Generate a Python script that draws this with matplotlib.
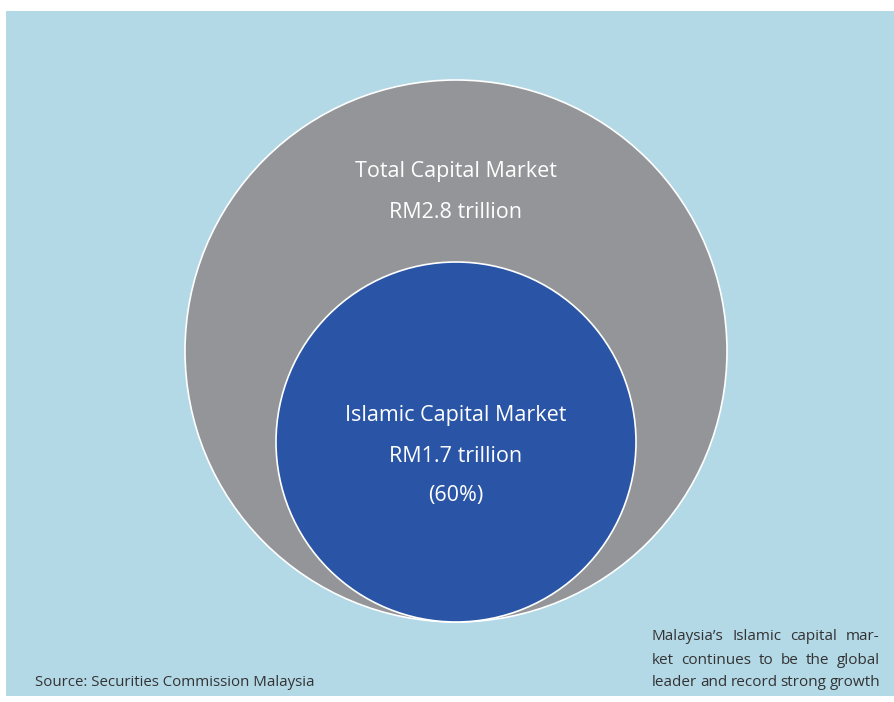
import matplotlib.pyplot as plt
from matplotlib.patches import Circle, Rectangle

# chart content
markets = ["Total Capital Market", "Islamic Capital Market"]
sizes_trillion = [2.8, 1.7]
islamic_share = 60
source_note = "Source: Securities Commission Malaysia"
caption_lines = [
    "Malaysia\u2019s Islamic capital mar-",
    "ket continues to be the global",
    "leader and record strong growth",
]

plt.rcParams["font.family"] = ["Open Sans", "DejaVu Sans"]

fig = plt.figure(figsize=(8.95, 7.02), dpi=100)
ax = fig.add_axes([0, 0, 1, 1])
ax.set_xlim(0, 895)
ax.set_ylim(702, 0)
ax.axis("off")

# light blue panel
ax.add_patch(Rectangle((6, 11), 895, 685, facecolor="#b3d8e6", edgecolor="none"))

# circles: outer = total, inner = islamic, both touching at the bottom
outer = Circle((456, 351), 271, facecolor="#939598", edgecolor="white", lw=1.2)
inner = Circle((456, 442), 180, facecolor="#2a55a6", edgecolor="white", lw=1.2)
ax.add_patch(outer)
ax.add_patch(inner)

ax.text(456, 171, markets[0], color="white", fontsize=15.5, ha="center", va="center")
ax.text(456, 212, f"RM{sizes_trillion[0]} trillion", color="white", fontsize=15.5,
        ha="center", va="center")
ax.text(456, 416, markets[1], color="white", fontsize=15.5, ha="center", va="center")
ax.text(456, 456, f"RM{sizes_trillion[1]} trillion", color="white", fontsize=15.5,
        ha="center", va="center")
ax.text(456, 496, f"({islamic_share}%)", color="white", fontsize=15.5,
        ha="center", va="center")

ax.text(35, 682, source_note, color="#333333", fontsize=10.8, ha="left", va="center")

# justified caption at bottom right
renderer = fig.canvas.get_renderer()
x_left, x_right = 652, 880
line_y = [637, 660, 682]
cap_size = 10.95
inv = ax.transData.inverted()


def word_width(artist):
    bb = artist.get_window_extent(renderer)
    return inv.transform((bb.x1, bb.y0))[0] - inv.transform((bb.x0, bb.y0))[0]


for i, line in enumerate(caption_lines):
    words = line.split()
    arts = [ax.text(0, line_y[i], w, color="#333333", fontsize=cap_size, ha="left",
                    va="center") for w in words]
    widths = [word_width(a) for a in arts]
    gap = (x_right - x_left - sum(widths)) / (len(words) - 1)
    x = x_left
    for a, w in zip(arts, widths):
        a.set_x(x)
        x += w + gap

fig.savefig("out.png", dpi=100)
